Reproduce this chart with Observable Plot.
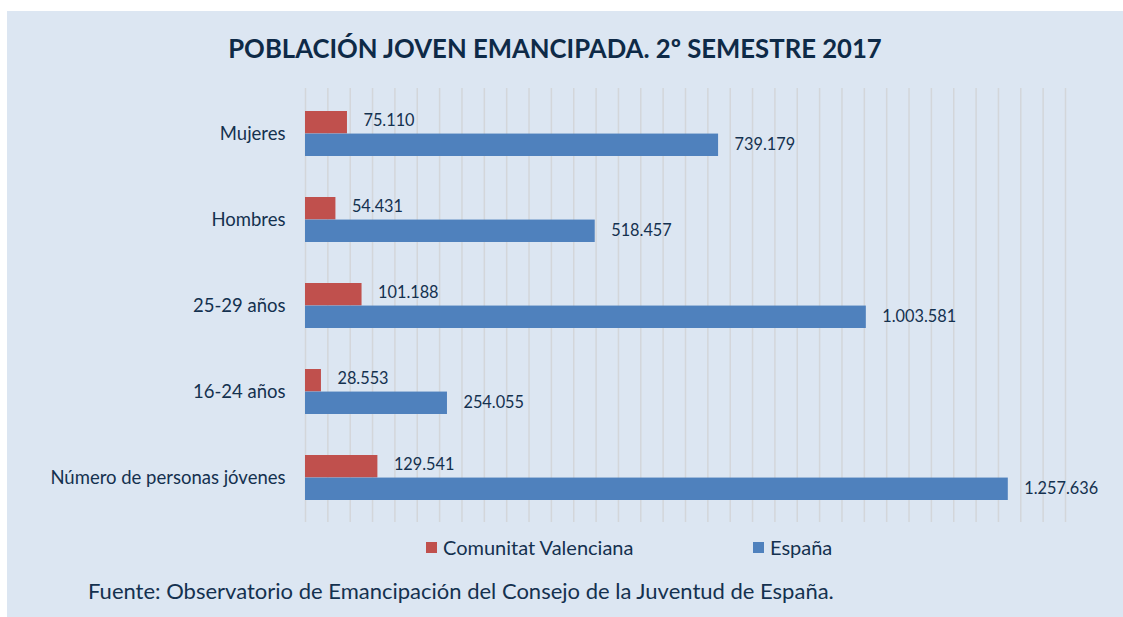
<!DOCTYPE html>
<html>
<head>
<meta charset="utf-8">
<script src="https://cdn.jsdelivr.net/npm/d3@7"></script>
<script src="https://cdn.jsdelivr.net/npm/@observablehq/plot@0.6"></script>
<style>
  html, body { margin: 0; padding: 0; background: #ffffff; width: 1123px; height: 617px; overflow: hidden; }
  #panel { position: absolute; left: 7px; top: 11px; width: 1116px; height: 606px; background: #dce6f2; font-family: Lato, "Open Sans", sans-serif; color: #14314f; }
  #title { position: absolute; left: 0; width: 1096px; top: 22px; text-align: center; font-weight: bold; font-size: 25.7px; color: #0e2a47; }
  #chart { position: absolute; left: 0; top: 67px; }
  #legend { position: absolute; top: 524px; left: 0; width: 1116px; font-size: 20px; }
  .key { position: absolute; display: flex; align-items: center; white-space: nowrap; }
  .sw { width: 11px; height: 11px; margin-right: 6px; }
  #caption { position: absolute; left: 81px; top: 566px; font-size: 22px; white-space: nowrap; }
</style>
</head>
<body>
<div id="panel">
  <div id="title">POBLACIÓN JOVEN EMANCIPADA. 2º SEMESTRE 2017</div>
  <div id="chart"></div>
  <div id="legend"></div>
  <div id="caption">Fuente: Observatorio de Emancipación del Consejo de la Juventud de España.</div>
</div>
<script>
const categories = ["Mujeres", "Hombres", "25-29 años", "16-24 años", "Número de personas jóvenes"];
const series = ["Comunitat Valenciana", "España"];
const valuesCV = [75110, 54431, 101188, 28553, 129541];
const valuesES = [739179, 518457, 1003581, 254055, 1257636];
const colors = ["#c0504d", "#4f81bd"];
const gridTicks = d3.range(0, 1360001, 40000);

const fmt = d3.formatLocale({decimal: ",", thousands: ".", grouping: [3], currency: ["", " €"]}).format(",d");

const rows = [];
categories.forEach((c, i) => {
  rows.push({category: c, series: series[0], value: valuesCV[i]});
  rows.push({category: c, series: series[1], value: valuesES[i]});
});
const cvRows = rows.filter(d => d.series === series[0]);
const esRows = rows.filter(d => d.series === series[1]);

const half = (434 / 5) * 0.52 / 2;

const chart = Plot.plot({
  width: 1116,
  height: 455,
  marginLeft: 298,
  marginRight: 58,
  marginTop: 10,
  marginBottom: 11,
  style: {background: "transparent", fontFamily: "Lato, 'Open Sans', sans-serif", fontSize: "16px", color: "#14314f"},
  x: {domain: [0, 1360000], axis: null},
  y: {domain: categories, paddingInner: 0.48, paddingOuter: 0.24, axis: null},
  color: {domain: series, range: colors},
  marks: [
    Plot.ruleX(gridTicks, {stroke: "#d3d6da", strokeWidth: 1.5}),
    Plot.axisY({tickSize: 0, tickPadding: 20, fontSize: 18.5, label: null, fill: "#14314f"}),
    Plot.barX(cvRows, {x: "value", y: "category", fill: "series", insetBottom: half}),
    Plot.barX(esRows, {x: "value", y: "category", fill: "series", insetTop: half}),
    Plot.text(cvRows, {x: "value", y: "category", text: d => fmt(d.value), dy: -half / 2 - 1.5, dx: 16, textAnchor: "start", fill: "#14314f", fontSize: 16.3}),
    Plot.text(esRows, {x: "value", y: "category", text: d => fmt(d.value), dy: half / 2 - 0.5, dx: 16, textAnchor: "start", fill: "#14314f", fontSize: 16.3})
  ]
});
document.getElementById("chart").appendChild(chart);

const legend = document.getElementById("legend");
const keyLeft = [419, 746];
series.forEach((s, i) => {
  const k = document.createElement("div");
  k.className = "key";
  k.style.left = keyLeft[i] + "px";
  k.innerHTML = `<span class="sw" style="background:${colors[i]}"></span><span>${s}</span>`;
  legend.appendChild(k);
});
</script>
</body>
</html>
